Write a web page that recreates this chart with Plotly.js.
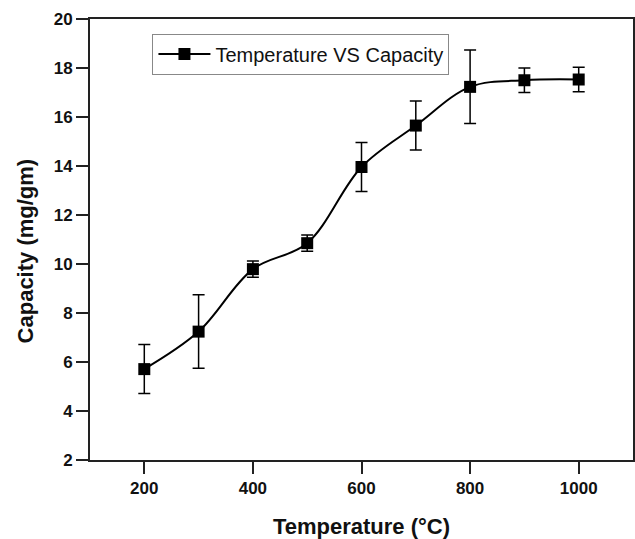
<!DOCTYPE html>
<html><head><meta charset="utf-8">
<script src="https://cdn.plot.ly/plotly-3.0.1.min.js"></script>
<style>html,body{margin:0;padding:0;background:#fff}#c{width:635px;height:539px}</style>
</head><body><div id="c"></div>
<script>
const temperature = [200, 300, 400, 500, 600, 700, 800, 900, 1000];
const capacity = [5.71, 7.24, 9.79, 10.85, 13.96, 15.65, 17.23, 17.5, 17.53];
const capacityErr = [1.0, 1.5, 0.33, 0.33, 1.0, 1.0, 1.5, 0.5, 0.5];
const xTicks = [200, 400, 600, 800, 1000];
const yTicks = [2, 4, 6, 8, 10, 12, 14, 16, 18, 20];

const FONT = 'Liberation Sans, Arial, sans-serif';
const trace = {
  x: temperature, y: capacity, type: 'scatter', mode: 'lines+markers',
  name: 'Temperature VS Capacity',
  line: {shape: 'spline', color: '#000', width: 2},
  marker: {symbol: 'square', size: 12, color: '#000'},
  error_y: {type: 'data', array: capacityErr, visible: true, color: '#000', thickness: 1.5, width: 6}
};
const axisCommon = {
  showgrid: false, zeroline: false, showline: true, linecolor: '#222', linewidth: 2,
  mirror: true, ticks: 'outside', ticklen: 12, tickwidth: 2, tickcolor: '#222',
  tickfont: {family: FONT, size: 17, color: '#111', weight: 'bold'}
};
const layout = {
  width: 635, height: 539,
  margin: {l: 90, r: 2, t: 19, b: 79},
  paper_bgcolor: '#fff', plot_bgcolor: '#fff',
  showlegend: true,
  legend: {x: 0.115, y: 0.967, xanchor: 'left', yanchor: 'top', bordercolor: '#888', borderwidth: 1,
    bgcolor: '#fff', itemwidth: 52, font: {family: FONT, size: 20, color: '#111'}},
  xaxis: Object.assign({}, axisCommon, {range: [100, 1100], tickvals: xTicks,
    title: {text: 'Temperature (°C)', standoff: 22, font: {family: FONT, size: 22, color: '#111', weight: 'bold'}}}),
  yaxis: Object.assign({}, axisCommon, {range: [2, 20], tickvals: yTicks}),
  annotations: [{
    text: 'Capacity (mg/gm)', xref: 'paper', yref: 'paper', x: -0.1197, y: 0.473,
    xanchor: 'center', yanchor: 'middle', textangle: -90, showarrow: false,
    font: {family: FONT, size: 22, color: '#111', weight: 'bold'}
  }]
};
Plotly.newPlot('c', [trace], layout, {displayModeBar: false, staticPlot: true});
</script></body></html>
